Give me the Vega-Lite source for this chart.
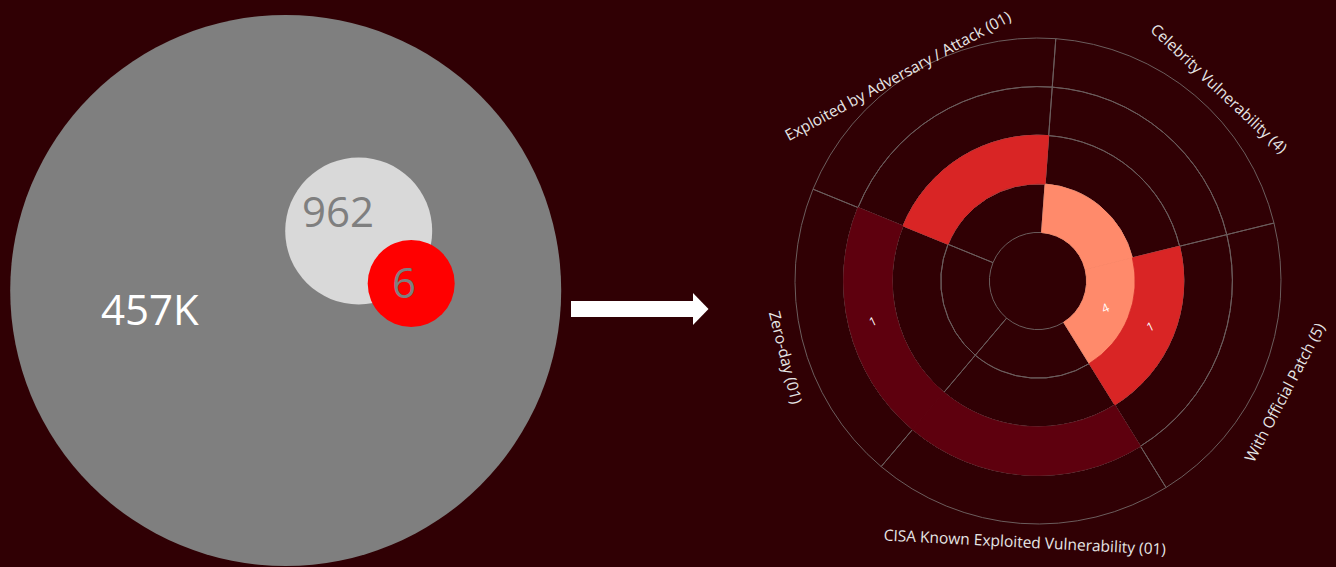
{
  "$schema": "https://vega.github.io/schema/vega-lite/v6.json",
  "background": "#300004",
  "padding": 0,
  "spacing": 31,
  "bounds": "flush",
  "config": {"view": {"stroke": null}, "font": "Open Sans", "text": {"font": "Open Sans"}},
  "hconcat": [
    {
      "width": 540,
      "height": 567,
      "data": {"values": [
        {"group": "All vulnerabilities", "count": 457000, "label": "457K"},
        {"group": "Exploitable", "count": 962, "label": "962"},
        {"group": "Prioritized", "count": 6, "label": "6"}
      ]},
      "layer": [
        {
          "mark": {"type": "point", "shape": "circle", "filled": true, "opacity": 1, "strokeWidth": 0},
          "encoding": {
            "x": {"field": "count", "type": "quantitative", "scale": {"type": "log", "domain": [6, 962, 457000], "range": [411.2, 358.7, 285.7], "nice": false, "zero": false}, "axis": null},
            "y": {"field": "count", "type": "quantitative", "scale": {"type": "log", "domain": [6, 962, 457000], "range": [283.5, 231, 290.5], "nice": false, "zero": false}, "axis": null},
            "size": {"field": "count", "type": "quantitative", "scale": {"type": "log", "domain": [6, 962, 457000], "range": [7569, 21609, 303601]}, "legend": null},
            "color": {"field": "group", "type": "nominal", "scale": {"domain": ["All vulnerabilities", "Exploitable", "Prioritized"], "range": ["#7F7F7F", "#D9D9D9", "#FF0000"]}, "legend": null}
          }
        },
        {
          "mark": {"type": "text", "fontSize": 42, "align": "center", "baseline": "alphabetic"},
          "encoding": {
            "x": {"field": "count", "type": "quantitative", "scale": {"type": "log", "domain": [6, 962, 457000], "range": [404, 338, 149.8], "nice": false, "zero": false}, "axis": null},
            "y": {"field": "count", "type": "quantitative", "scale": {"type": "log", "domain": [6, 962, 457000], "range": [298.3, 227.3, 325], "nice": false, "zero": false}, "axis": null},
            "text": {"field": "label"},
            "color": {"field": "group", "type": "nominal", "scale": {"domain": ["All vulnerabilities", "Exploitable", "Prioritized"], "range": ["#FFFFFF", "#7F7F7F", "#7F7F7F"]}, "legend": null}
          }
        }
      ],
      "resolve": {"scale": {"x": "independent", "y": "independent", "color": "independent"}}
    },
    {
      "width": 138,
      "height": 567,
      "data": {"values": [{"from": "All vulnerabilities", "to": "Breakdown"}]},
      "layer": [
        {
          "mark": {"type": "rule", "color": "#FFFFFF", "strokeWidth": 16, "strokeCap": "butt"},
          "encoding": {
            "x": {"datum": 0, "type": "quantitative", "scale": {"domain": [0, 1], "nice": false, "zero": false}, "axis": null},
            "x2": {"datum": 0.888},
            "y": {"datum": 0, "type": "quantitative", "scale": {"domain": [-0.91, 1.09], "nice": false, "zero": false}, "axis": null}
          }
        },
        {
          "mark": {"type": "point", "shape": "M0,-1L0.97,0L0,1Z", "filled": true, "opacity": 1, "color": "#FFFFFF", "strokeWidth": 0, "size": 1024},
          "encoding": {
            "x": {"datum": 0.884, "type": "quantitative"},
            "y": {"datum": 0, "type": "quantitative"}
          }
        }
      ]
    },
    {
      "width": 596,
      "height": 562,
      "data": {"values": [
        {"category": "Celebrity Vulnerability (4)", "ring": 1, "shade": "light", "value": null},
        {"category": "With Official Patch (5)", "ring": 1, "shade": "light", "value": 4},
        {"category": "CISA Known Exploited Vulnerability (01)", "ring": 1, "shade": null, "value": null},
        {"category": "Zero-day (01)", "ring": 1, "shade": null, "value": null},
        {"category": "Exploited by Adversary / Attack (01)", "ring": 1, "shade": null, "value": null},
        {"category": "Celebrity Vulnerability (4)", "ring": 2, "shade": null, "value": null},
        {"category": "With Official Patch (5)", "ring": 2, "shade": "medium", "value": 1},
        {"category": "CISA Known Exploited Vulnerability (01)", "ring": 2, "shade": null, "value": null},
        {"category": "Zero-day (01)", "ring": 2, "shade": null, "value": null},
        {"category": "Exploited by Adversary / Attack (01)", "ring": 2, "shade": "medium", "value": null},
        {"category": "Celebrity Vulnerability (4)", "ring": 3, "shade": null, "value": null},
        {"category": "With Official Patch (5)", "ring": 3, "shade": null, "value": null},
        {"category": "CISA Known Exploited Vulnerability (01)", "ring": 3, "shade": "dark", "value": null},
        {"category": "Zero-day (01)", "ring": 3, "shade": "dark", "value": 1},
        {"category": "Exploited by Adversary / Attack (01)", "ring": 3, "shade": null, "value": null},
        {"category": "Celebrity Vulnerability (4)", "ring": 4, "shade": null, "value": null},
        {"category": "With Official Patch (5)", "ring": 4, "shade": null, "value": null},
        {"category": "CISA Known Exploited Vulnerability (01)", "ring": 4, "shade": null, "value": null},
        {"category": "Zero-day (01)", "ring": 4, "shade": null, "value": null},
        {"category": "Exploited by Adversary / Attack (01)", "ring": 4, "shade": null, "value": null}
      ]},
      "transform": [
        {"window": [{"op": "row_number", "as": "idx"}]},
        {"joinaggregate": [{"op": "count", "as": "one"}], "groupby": ["category", "ring"]},
        {"stack": "one", "groupby": ["ring"], "sort": [{"field": "idx", "order": "ascending"}], "as": ["t0", "t1"]},
        {"stack": "one", "groupby": ["category"], "sort": [{"field": "ring", "order": "ascending"}], "as": ["r0", "r1"]}
      ],
      "layer": [
        {
          "mark": {"type": "arc", "fill": "transparent", "stroke": "#6b5d5d", "strokeWidth": 1},
          "encoding": {
            "theta": {"field": "t0", "type": "quantitative", "scale": {"type": "linear", "domain": [0, 5], "range": [0.073304, 6.356489]}},
            "theta2": {"field": "t1"},
            "radius": {"field": "r0", "type": "quantitative", "scale": {"type": "linear", "domain": [-1, 4], "range": [0, 243], "zero": false}},
            "radius2": {"field": "r1"}
          }
        },
        {
          "transform": [{"filter": "datum.shade != null"}],
          "mark": {"type": "arc", "strokeWidth": 0.8},
          "encoding": {
            "theta": {"field": "t0", "type": "quantitative", "scale": {"type": "linear", "domain": [0, 5], "range": [0.073304, 6.356489]}},
            "theta2": {"field": "t1"},
            "radius": {"field": "r0", "type": "quantitative", "scale": {"type": "linear", "domain": [-1, 4], "range": [0, 243], "zero": false}},
            "radius2": {"field": "r1"},
            "color": {"field": "shade", "type": "nominal", "scale": {"domain": ["light", "medium", "dark"], "range": ["#FF8A6B", "#D92525", "#5E000E"]}, "legend": null},
            "stroke": {"field": "shade", "type": "nominal", "scale": {"domain": ["light", "medium", "dark"], "range": ["#FF8A6B", "#D92525", "#5E000E"]}, "legend": null}
          }
        },
        {
          "transform": [{"filter": "datum.value != null"}],
          "mark": {"type": "text", "fontSize": 12, "color": "#FFFFFF", "angle": -25, "align": "center", "baseline": "middle"},
          "encoding": {
            "theta": {"field": "t0", "type": "quantitative", "scale": {"type": "linear", "domain": [0, 5], "range": [0.701622, 6.984807]}},
            "radius": {"field": "r0", "type": "quantitative", "scale": {"type": "linear", "domain": [-1.5, 3.5], "range": [0, 243], "zero": false}},
            "text": {"field": "value", "type": "quantitative"}
          }
        },
        {
          "transform": [{"filter": "datum.ring == 1 && datum.category == 'Exploited by Adversary / Attack (01)'"}],
          "mark": {"type": "text", "radius": 247, "angle": -28.5, "dx": -11, "fontSize": 15.5, "color": "#E6E6E6", "align": "center", "baseline": "middle"},
          "encoding": {
            "theta": {"field": "t0", "type": "quantitative", "scale": {"type": "linear", "domain": [0, 5], "range": [0.701622, 6.984807]}},
            "text": {"field": "category"}
          }
        },
        {
          "transform": [{"filter": "datum.ring == 1 && datum.category == 'Celebrity Vulnerability (4)'"}],
          "mark": {"type": "text", "radius": 264, "angle": 43.3, "dx": 14, "fontSize": 15.5, "color": "#E6E6E6", "align": "center", "baseline": "middle"},
          "encoding": {
            "theta": {"field": "t0", "type": "quantitative", "scale": {"type": "linear", "domain": [0, 5], "range": [0.701622, 6.984807]}},
            "text": {"field": "category"}
          }
        },
        {
          "transform": [{"filter": "datum.ring == 1 && datum.category == 'With Official Patch (5)'"}],
          "mark": {"type": "text", "radius": 272, "angle": -62.3, "dx": -10, "fontSize": 15.5, "color": "#E6E6E6", "align": "center", "baseline": "middle"},
          "encoding": {
            "theta": {"field": "t0", "type": "quantitative", "scale": {"type": "linear", "domain": [0, 5], "range": [0.701622, 6.984807]}},
            "text": {"field": "category"}
          }
        },
        {
          "transform": [{"filter": "datum.ring == 1 && datum.category == 'CISA Known Exploited Vulnerability (01)'"}],
          "mark": {"type": "text", "radius": 262, "angle": 2.9, "dx": 6, "fontSize": 15.5, "color": "#E6E6E6", "align": "center", "baseline": "middle"},
          "encoding": {
            "theta": {"field": "t0", "type": "quantitative", "scale": {"type": "linear", "domain": [0, 5], "range": [0.701622, 6.984807]}},
            "text": {"field": "category"}
          }
        },
        {
          "transform": [{"filter": "datum.ring == 1 && datum.category == 'Zero-day (01)'"}],
          "mark": {"type": "text", "radius": 264, "angle": 76, "dx": 14, "fontSize": 15.5, "color": "#E6E6E6", "align": "center", "baseline": "middle"},
          "encoding": {
            "theta": {"field": "t0", "type": "quantitative", "scale": {"type": "linear", "domain": [0, 5], "range": [0.701622, 6.984807]}},
            "text": {"field": "category"}
          }
        }
      ],
      "resolve": {"scale": {"theta": "independent", "radius": "independent"}}
    }
  ]
}
